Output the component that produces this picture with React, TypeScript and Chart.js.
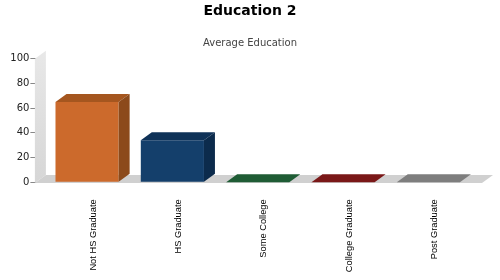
import React, { useEffect, useRef } from "react";
import { Chart, registerables } from "chart.js";

Chart.register(...registerables);

const categories = ["Not HS Graduate", "HS Graduate", "Some College", "College Graduate", "Post Graduate"];
const values = [65, 34, 0, 0, 0];
const frontColors = ["#CC6A2C", "#143F6B", "#22643A", "#861A1A", "#8A8A8A"];
const topColors = ["#A5561F", "#0F3258", "#1F5C35", "#7A1818", "#7E7E7E"];
const sideColors = ["#8C4A1B", "#0C2B4C", "#184A2A", "#661313", "#6E6E6E"];
const yMin = 0;
const yMax = 100;
const yStep = 20;
const titleText = "Education 2";
const subtitleText = "Average Education";

const DX = 11;
const DY = 8;

const threeD = {
  id: "threeD",
  beforeDatasetsDraw(chart: any) {
    const { ctx, chartArea: a } = chart;
    const L = a.left - 9.5;
    const R = a.right + 11;
    const T = a.top;
    const B = a.bottom + 0.7;
    ctx.save();
    const g = ctx.createLinearGradient(0, T - DY, 0, B);
    g.addColorStop(0, "#E8E8E8");
    g.addColorStop(1, "#D6D6D6");
    ctx.fillStyle = g;
    ctx.beginPath();
    ctx.moveTo(L, B);
    ctx.lineTo(L, T);
    ctx.lineTo(L + DX, T - DY);
    ctx.lineTo(L + DX, B - DY);
    ctx.closePath();
    ctx.fill();
    ctx.fillStyle = "#D0D0D0";
    ctx.beginPath();
    ctx.moveTo(L, B);
    ctx.lineTo(R, B);
    ctx.lineTo(R + DX, B - DY);
    ctx.lineTo(L + DX, B - DY);
    ctx.closePath();
    ctx.fill();
    ctx.restore();
  },
  afterDatasetsDraw(chart: any) {
    const { ctx } = chart;
    const meta = chart.getDatasetMeta(0);
    ctx.save();
    meta.data.forEach((bar: any, i: number) => {
      const { x, y, base, width } = bar.getProps(["x", "y", "base", "width"], true);
      const l = x - width / 2;
      const r = x + width / 2;
      ctx.fillStyle = topColors[i];
      ctx.beginPath();
      ctx.moveTo(l, y);
      ctx.lineTo(r, y);
      ctx.lineTo(r + DX, y - DY);
      ctx.lineTo(l + DX, y - DY);
      ctx.closePath();
      ctx.fill();
      if (base - y > 0.5) {
        ctx.fillStyle = sideColors[i];
        ctx.beginPath();
        ctx.moveTo(r, y);
        ctx.lineTo(r + DX, y - DY);
        ctx.lineTo(r + DX, base - DY);
        ctx.lineTo(r, base);
        ctx.closePath();
        ctx.fill();
      }
    });
    ctx.restore();
  },
};

export default function App() {
  const ref = useRef<HTMLCanvasElement>(null);
  useEffect(() => {
    if (!ref.current) return;
    const chart = new Chart(ref.current, {
      type: "bar",
      data: {
        labels: categories,
        datasets: [
          {
            data: values,
            backgroundColor: frontColors,
            borderWidth: 0,
            barPercentage: 0.74,
            categoryPercentage: 1,
          },
        ],
      },
      options: {
        animation: false,
        responsive: false,
        devicePixelRatio: 1,
        layout: { padding: 0 },
        plugins: {
          legend: { display: false },
          tooltip: { enabled: false },
          title: {
            display: true,
            text: titleText,
            color: "#000000",
            font: { family: "DejaVu Sans", size: 14, weight: "bold" },
            padding: { top: 2.5, bottom: 10 },
          },
          subtitle: {
            display: true,
            text: subtitleText,
            color: "#444444",
            font: { family: "DejaVu Sans", size: 10 },
            padding: { top: 7.7, bottom: 9.8 },
          },
        },
        scales: {
          x: {
            type: "category",
            offset: true,
            grid: { display: false },
            border: { display: false },
            ticks: {
              autoSkip: false,
              minRotation: 90,
              maxRotation: 90,
              padding: 9,
              labelOffset: 6,
              color: "#000000",
              font: { family: "Liberation Sans", size: 9.3 },
            },
            afterFit: (s: any) => {
              s.height = 97.7;
            },
          },
          y: {
            min: yMin,
            max: yMax,
            grid: {
              display: true,
              drawOnChartArea: false,
              drawTicks: true,
              tickLength: 14,
              color: "#888888",
            },
            border: { display: false },
            ticks: {
              stepSize: yStep,
              padding: 1,
              color: "#222222",
              font: { family: "DejaVu Sans", size: 10 },
            },
            afterFit: (s: any) => {
              s.width = 44.4;
            },
          },
          yRight: {
            type: "linear",
            position: "right",
            display: true,
            grid: { display: false },
            border: { display: false },
            ticks: { display: false },
            afterFit: (s: any) => {
              s.width = 29;
            },
          },
        },
      },
      plugins: [threeD],
    });
    return () => chart.destroy();
  }, []);
  return (
    <div style={{ position: "absolute", left: 0, top: 0, width: 500, height: 280, background: "#fff" }}>
      <canvas ref={ref} width={500} height={280} />
    </div>
  );
}
